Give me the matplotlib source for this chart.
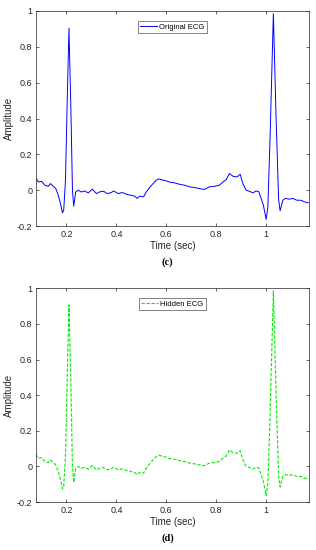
import numpy as np
import matplotlib
matplotlib.use('Agg')
import matplotlib.pyplot as plt
from matplotlib.ticker import FuncFormatter

plt.rcParams['font.family'] = ['Liberation Sans', 'DejaVu Sans']
plt.rcParams['axes.unicode_minus'] = False

# time (sec) and amplitude
t = [0.077, 0.087, 0.100, 0.113, 0.127, 0.136, 0.147, 0.157, 0.167, 0.176,
     0.184, 0.189, 0.196, 0.203, 0.210, 0.217, 0.224, 0.229, 0.237, 0.247,
     0.260, 0.273, 0.287, 0.304, 0.320, 0.333, 0.349, 0.363, 0.380, 0.389,
     0.407, 0.424, 0.440, 0.456, 0.473, 0.483, 0.493, 0.509, 0.520, 0.533,
     0.547, 0.560, 0.571, 0.587, 0.600, 0.616, 0.633, 0.653, 0.673, 0.693,
     0.713, 0.733, 0.753, 0.773, 0.793, 0.813, 0.827, 0.840, 0.853, 0.867,
     0.883, 0.896, 0.907, 0.920, 0.933, 0.947, 0.960, 0.971, 0.980, 0.989,
     1.000, 1.007, 1.016, 1.029, 1.040, 1.050, 1.056, 1.067, 1.077, 1.093,
     1.107, 1.123, 1.140, 1.153, 1.169]
original = [0.068, 0.046, 0.050, 0.028, 0.022, 0.037, 0.022, 0.010, -0.028, -0.074,
            -0.126, -0.111, 0.056, 0.500, 0.905, 0.500, 0.000, -0.089, -0.010, 0.000,
            -0.010, -0.004, -0.015, 0.006, -0.019, -0.009, -0.006, -0.019, -0.013, -0.004,
            -0.019, -0.013, -0.022, -0.028, -0.033, -0.046, -0.033, -0.037, -0.009, 0.015,
            0.037, 0.056, 0.063, 0.056, 0.052, 0.044, 0.041, 0.033, 0.028, 0.019,
            0.015, 0.009, 0.004, 0.019, 0.022, 0.028, 0.046, 0.059, 0.093, 0.078,
            0.074, 0.089, 0.037, 0.000, -0.006, -0.015, -0.004, -0.009, -0.046, -0.083,
            -0.163, -0.093, 0.300, 0.985, 0.400, -0.050, -0.115, -0.056, -0.046, -0.050,
            -0.046, -0.056, -0.056, -0.065, -0.070]
hidden = list(original)

xticks = [0.2, 0.4, 0.6, 0.8, 1.0]
yticks = [-0.2, 0, 0.2, 0.4, 0.6, 0.8, 1.0]

fig = plt.figure(figsize=(3.16, 5.5), dpi=100)
ax1 = fig.add_axes([0.114, 0.589, 0.864, 0.391])
ax2 = fig.add_axes([0.114, 0.087, 0.864, 0.389])

fmt = FuncFormatter(lambda v, p: '%g' % round(v, 2))

def style(ax):
    ax.set_xlim(0.078, 1.172)
    ax.set_ylim(-0.2, 1.0)
    ax.set_xticks(xticks)
    ax.set_yticks(yticks)
    ax.xaxis.set_major_formatter(fmt)
    ax.yaxis.set_major_formatter(fmt)
    ax.tick_params(direction='in', length=2.5, width=0.5, labelsize=6.5,
                   colors='#262626', top=True, right=True, pad=2.5)
    for s in ax.spines.values():
        s.set_linewidth(0.5)
        s.set_color('#262626')
    ax.set_xlabel('Time (sec)', fontsize=7, color='#262626', labelpad=2)
    ax.set_ylabel('Amplitude', fontsize=7, color='#262626', labelpad=2)

ax1.plot(t, original, color='#0000ff', lw=0.7, label='Original ECG')
style(ax1)
ax1.legend(loc='upper center', fontsize=5.5, frameon=True, fancybox=False,
           edgecolor='#262626', handlelength=2.2, borderpad=0.3, handletextpad=0.3,
           bbox_to_anchor=(0.5, 0.97)).get_frame().set_linewidth(0.5)

ax2.plot(t, hidden, color='#00ee00', lw=0.8, ls='--', dashes=(3, 1.5), label='Hidden ECG')
style(ax2)
ax2.legend(loc='upper center', fontsize=5.5, frameon=True, fancybox=False,
           edgecolor='#262626', handlelength=2.2, borderpad=0.3, handletextpad=0.3,
           bbox_to_anchor=(0.5, 0.97)).get_frame().set_linewidth(0.5)

fig.text(0.53, 1 - 262 / 550, '(c)', ha='center', va='center', fontsize=7.5,
         family='Liberation Serif', weight='bold')
fig.text(0.53, 1 - 538 / 550, '(d)', ha='center', va='center', fontsize=7.5,
         family='Liberation Serif', weight='bold')

fig.savefig('out.png', dpi=100, facecolor='white')
